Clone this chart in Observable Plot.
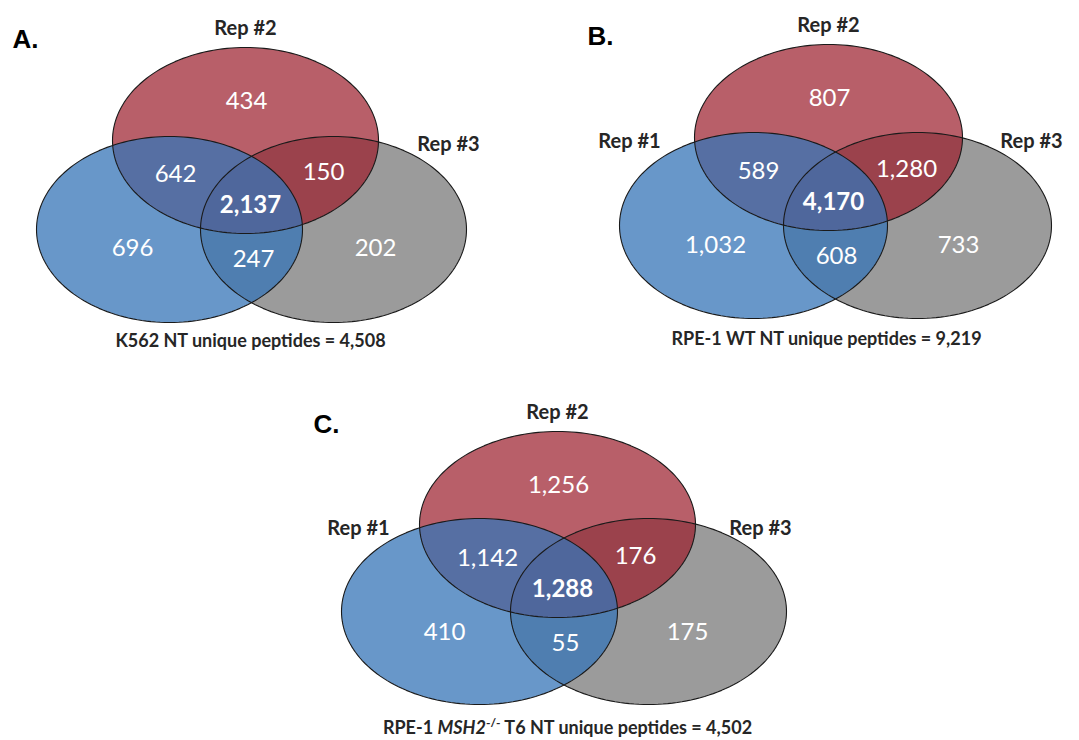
<!DOCTYPE html>
<html><head><meta charset="utf-8">
<script src="https://cdn.jsdelivr.net/npm/d3@7"></script>
<script src="https://cdn.jsdelivr.net/npm/@observablehq/plot@0.6"></script>
<style>body{margin:0;background:#fff}</style>
</head><body><div id="chart"></div>
<script>
// ---- data ----
const panelLetters = ["A.", "B.", "C."];
const repNames = ["Rep #1", "Rep #2", "Rep #3"];
const repShown = [[false, true, true], [true, true, true], [true, true, true]];
// regions: only#1, only#2, only#3, #1∩#2, #1∩#3, #2∩#3, all three
const regionKeys = ["1", "2", "3", "12", "13", "23", "123"];
const countsA = [696, 434, 202, 642, 247, 150, 2137];
const countsB = [1032, 807, 733, 589, 608, 1280, 4170];
const countsC = [410, 1256, 175, 1142, 55, 176, 1288];
const captions = [
  "K562 NT unique peptides = 4,508",
  "RPE-1 WT NT unique peptides = 9,219",
  "RPE-1 MSH2-/- T6 NT unique peptides = 4,502"
];
const counts = [countsA, countsB, countsC];

// ---- layout (pixels) ----
const W = 1079, H = 740;
const layout = [
  {ox: 245, oy: 140, rx: 133, ry: 93, blue: [-76, 89], gray: [88, 89], letter: [12, 39], caption: [250, 341]},
  {ox: 828, oy: 137, rx: 134, ry: 93, blue: [-75, 88], gray: [89, 88], letter: [587, 36], caption: [826, 339]},
  {ox: 557, oy: 524, rx: 138, ry: 93, blue: [-78, 87], gray: [91, 87], letter: [313, 424], caption: [567, 728]}
];
const regionOffset = {"1": [-113, 108], "2": [1, -39], "3": [130, 108], "12": [-70, 34], "13": [8, 119], "23": [78, 32], "123": [5, 65]};
const repOffset = [[-199, 4], [0, -112], [203, 4]];
const setStyle = [
  {fill: "rgb(54,116,183)", opacity: 0.75},  // Rep #1 blue
  {fill: "rgb(155,30,44)", opacity: 0.71},   // Rep #2 red
  {fill: "rgb(155,155,155)", opacity: 1}     // Rep #3 gray
];

// ellipse outlines
const ellipsePts = [];
layout.forEach((L, p) => {
  const centers = [[L.ox + L.blue[0], L.oy + L.blue[1]], [L.ox, L.oy], [L.ox + L.gray[0], L.oy + L.gray[1]]];
  centers.forEach(([cx, cy], s) => {
    for (let a = 0; a < 360; a += 2) {
      const t = a * Math.PI / 180;
      ellipsePts.push({panel: p, set: s, id: p + "-" + s, x: cx + L.rx * Math.cos(t), y: cy + L.ry * Math.sin(t)});
    }
  });
});

const numberRows = [], boldRows = [], repRows = [], letterRows = [], captionRows = [];
layout.forEach((L, p) => {
  regionKeys.forEach((k, i) => {
    const row = {x: L.ox + regionOffset[k][0], y: L.oy + regionOffset[k][1], text: d3.format(",")(counts[p][i])};
    (k === "123" ? boldRows : numberRows).push(row);
  });
  repNames.forEach((r, i) => {
    if (repShown[p][i]) repRows.push({x: L.ox + repOffset[i][0], y: L.oy + repOffset[i][1], text: r});
  });
  letterRows.push({x: L.letter[0], y: L.letter[1], text: panelLetters[p]});
  captionRows.push({x: L.caption[0], y: L.caption[1], text: captions[p]});
});

const fillMarks = [2, 1, 0].map(s => Plot.line(ellipsePts.filter(d => d.set === s), {
  x: "x", y: "y", z: "id", curve: "linear-closed", stroke: "none",
  fill: setStyle[s].fill, fillOpacity: setStyle[s].opacity
}));

const chart = Plot.plot({
  width: W, height: H, margin: 0,
  x: {domain: [0, W], range: [0, W], axis: null},
  y: {domain: [0, H], range: [0, H], axis: null},
  style: {fontFamily: "Lato, sans-serif", background: "#fff"},
  marks: [
    ...fillMarks,
    Plot.line(ellipsePts, {x: "x", y: "y", z: "id", curve: "linear-closed", stroke: "#1a1a1a", strokeWidth: 1.1}),
    Plot.text(numberRows, {x: "x", y: "y", text: "text", fill: "#fff", fontSize: 24, fontFamily: "Lato"}),
    Plot.text(boldRows, {x: "x", y: "y", text: "text", fill: "#fff", fontSize: 24, fontWeight: "bold", fontFamily: "Lato"}),
    Plot.text(repRows, {x: "x", y: "y", text: "text", fill: "#262626", fontSize: 20, fontWeight: "bold", fontFamily: "Lato"}),
    Plot.text(letterRows, {x: "x", y: "y", text: "text", fill: "#000", fontSize: 26, fontWeight: "bold", textAnchor: "start", fontFamily: "Liberation Sans"}),
    Plot.text(captionRows, {x: "x", y: "y", text: "text", fill: "#262626", fontSize: 18, fontWeight: "bold", fontFamily: "Lato"})
  ]
});
document.getElementById("chart").appendChild(chart);

// italic gene name with superscript genotype in caption C
d3.select(chart).selectAll("text").filter(function() { return this.textContent === captions[2]; })
  .each(function() {
    const t = d3.select(this);
    t.text(null);
    t.append("tspan").text("RPE-1 ");
    t.append("tspan").attr("font-style", "italic").text("MSH2");
    t.append("tspan").attr("font-size", 12).attr("dy", -7).text("-/-");
    t.append("tspan").attr("dy", 7).text(" T6 NT unique peptides = 4,502");
  });
</script></body></html>
